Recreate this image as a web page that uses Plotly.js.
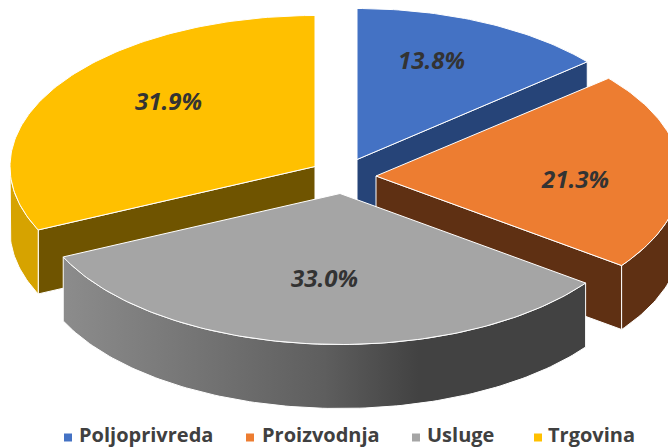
<!DOCTYPE html>
<html><head><meta charset="utf-8">
<script src="https://cdn.plot.ly/plotly-3.0.0.min.js"></script>
<style>html,body{margin:0;padding:0;background:#fff}#c{width:668px;height:448px}</style>
</head><body><div id="c"></div>
<script>
const categories = ["Poljoprivreda","Proizvodnja","Usluge","Trgovina"];
const shares = [13.8,21.3,33.0,31.9];
const labels = ["13.8%","21.3%","33.0%","31.9%"];

const colors = ["#4472C4","#ED7D31","#A5A5A5","#FFC000"];
const cutWall = ["#264478","#5F3013","#000000","#6F5400"];
const rimWall = [null,"#5F3013","gradient","#D6A300"];
const apexX = [357,376,340,315], apexY = [159.5,176,193.5,166.5];
const radiusX = [302,305,305,305];
const labelX = [431,575,324,168], labelY = [59,178,277,100];
const keyX = [68,250,416,538], keyTextX = [77,260,425,546];
const KEY_Y=437.5, RY=151, DEPTH=64, TXT="#333333", FONT="'Open Sans','Noto Sans',sans-serif";

const total = shares.reduce((a,b)=>a+b,0);
let acc=0; const start=[],end=[];
shares.forEach(v=>{start.push(acc/total*360);acc+=v;end.push(acc/total*360);});
const rad=d=>d*Math.PI/180;
function arc(i,a,b,dz){const xs=[],ys=[],n=Math.max(2,Math.ceil(Math.abs(b-a)));
  for(let k=0;k<=n;k++){const t=rad(a+(b-a)*k/n);xs.push(apexX[i]+radiusX[i]*Math.sin(t));ys.push(apexY[i]-RY*Math.cos(t)+dz);}
  return [xs,ys];}
function poly(xs,ys,fill,extra){return Object.assign({type:"scatter",mode:"lines",x:xs.concat(xs[0]),y:ys.concat(ys[0]),fill:"toself",fillcolor:fill,
  line:{color:"#ffffff",width:1},hoverinfo:"skip",showlegend:false},extra||{});}

function wedge(i){const out=[];
  const radial=(deg)=>{const [ex,ey]=arc(i,deg,deg,0);const X=ex[0],Y=ey[0];
    out.push(poly([apexX[i],X,X,apexX[i]],[apexY[i],Y,Y+DEPTH,apexY[i]+DEPTH],cutWall[i]));};
  if(i===0||i===1) radial(end[i]);
  if(i===3) radial(start[i]);
  const a=Math.max(start[i],90), b=Math.min(end[i],270);
  if(rimWall[i]&&b>a){const [tx,ty]=arc(i,a,b,0),[bx,by]=arc(i,b,a,DEPTH);
    const xs=tx.concat(bx),ys=ty.concat(by);
    if(rimWall[i]==="gradient"){
      out.push(poly(xs,ys,"#666666",{fillgradient:{type:"horizontal",colorscale:[[0,"#8C8C8C"],[0.5,"#5E5E5E"],[0.68,"#424242"],[1,"#424242"]]}}));
    } else out.push(poly(xs,ys,rimWall[i]));}
  const [fx,fy]=arc(i,start[i],end[i],0);
  out.push(poly([apexX[i]].concat(fx),[apexY[i]].concat(fy),colors[i]));
  return out;}

const traces=[];
[0,1,3,2].forEach(i=>wedge(i).forEach(t=>traces.push(t)));
categories.forEach((c,i)=>traces.push({type:"scatter",mode:"markers",name:c,x:[keyX[i]],y:[KEY_Y],
  marker:{symbol:"square",size:8,color:colors[i]},hoverinfo:"skip",showlegend:false}));

const sliceText=labels.map((t,i)=>({x:labelX[i],y:labelY[i],xref:"x",yref:"y",text:"<b><i>"+t+"</i></b>",showarrow:false,
    font:{family:FONT,size:24,color:TXT}}));
const keyText=categories.map((c,i)=>({x:keyTextX[i],y:434,xref:"x",yref:"y",xanchor:"left",text:"<b>"+c+"</b>",showarrow:false,
    font:{family:FONT,size:20,color:"#404040"}}));
const layout={width:668,height:448,margin:{l:0,r:0,t:0,b:0,autoexpand:false},paper_bgcolor:"#fff",plot_bgcolor:"#fff",showlegend:false,
  xaxis:{range:[0,668],visible:false,fixedrange:true},
  yaxis:{range:[448,0],visible:false,fixedrange:true},
  annotations:sliceText.concat(keyText)};
Plotly.newPlot("c",traces,layout,{displayModeBar:false,staticPlot:true});
</script></body></html>
